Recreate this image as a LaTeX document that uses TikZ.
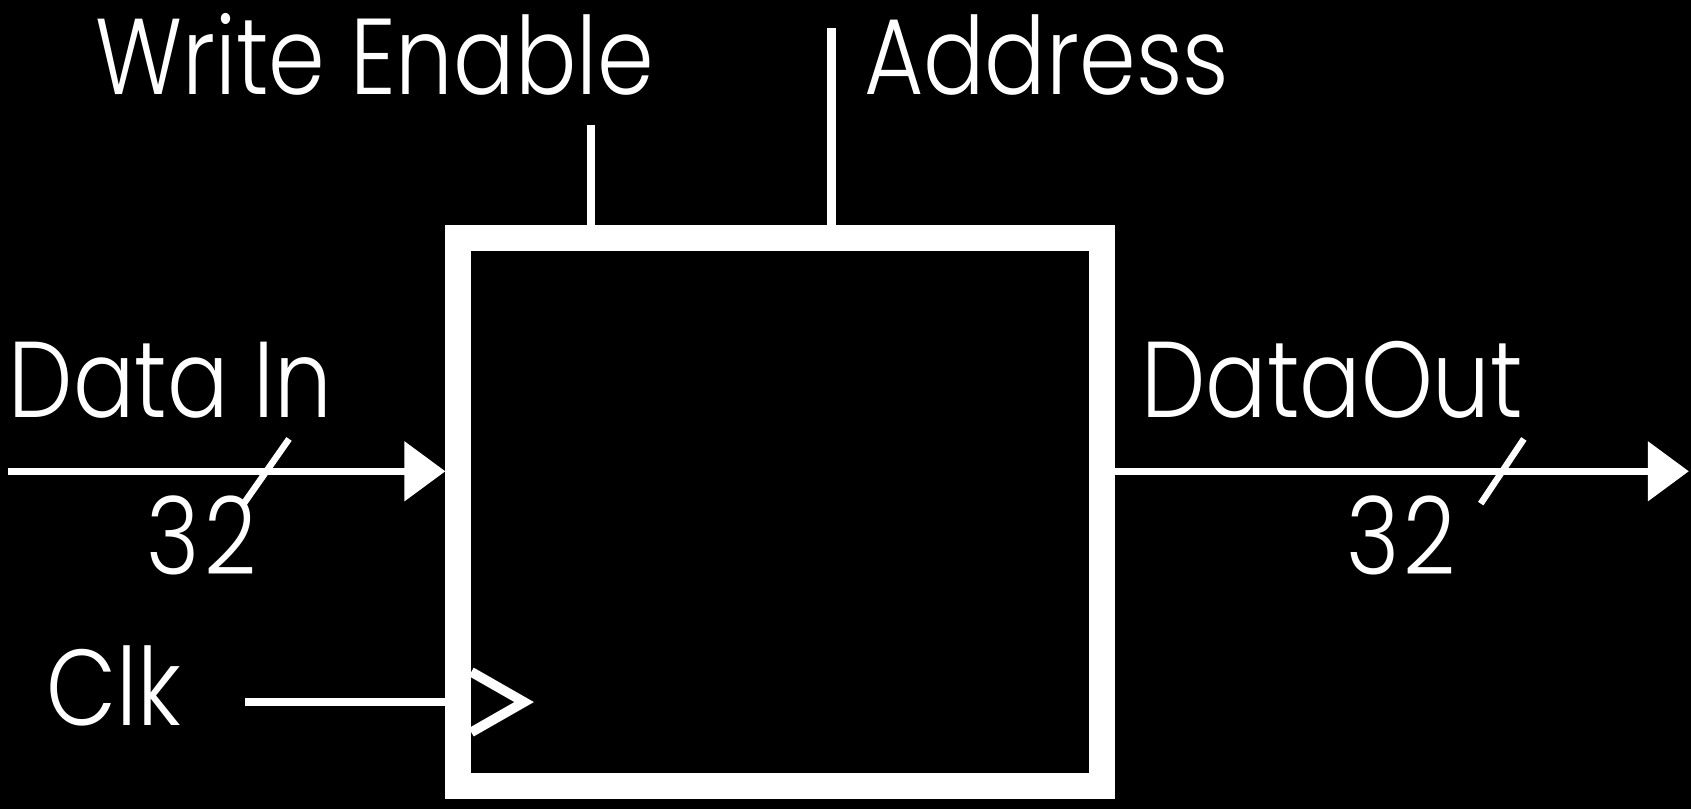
\documentclass[tikz,border=0pt]{standalone}
\usepackage{fontspec}
\setmainfont{Poppins}[UprightFont = * Light, FakeStretch = 0.845]
\usetikzlibrary{arrows.meta}
\tikzset{
  wire/.style = {white, line width = 7pt},
  bus/.style = {wire, -{Triangle[length=38pt,width=54pt]}},
  tick/.style = {white, line width = 6pt},
  lbl/.style = {white, inner sep = 0pt, anchor = base west, font = \fontsize{100}{115}\selectfont},
}
\begin{document}
\begin{tikzpicture}[x=1pt, y=-1pt]
  \fill [black] (0,0) rectangle (1568,750);
  \useasboundingbox (0,0) rectangle (1568,750);
  % memory block
  \node (mem) [draw = white, line width = 24pt, minimum width = 596.5pt, minimum height = 508pt] at (723.25,474.5) {};
  % inputs on top
  \coordinate (we) at (548,116);
  \coordinate (addr) at (771,26);
  \draw [wire, line width = 8pt] (we) -- (we |- mem.north);
  \draw [wire, line width = 8pt] (addr) -- (addr |- mem.north);
  \node (welbl) [lbl] at (88,88) {Write Enable};
  \node (addrlbl) [lbl] at (801,88) {Address};
  % data in
  \coordinate (din) at (7,437);
  \draw [bus] (din) -- (din -| mem.west);
  \draw [tick] (268,407) -- (226,467);
  \node (dinlbl) [lbl] at (8,387) {Data In};
  \node (dinw) [lbl] at (136,533) {3\hspace{4pt}2};
  % data out
  \coordinate (dout) at (1566,437);
  \draw [bus] (dout -| mem.east) -- (dout);
  \draw [tick] (1413,407) -- (1373,467);
  \node (doutlbl) [lbl] at (1058,387) {DataOut};
  \node (doutw) [lbl] at (1248,533) {3\hspace{4pt}2};
  % clock
  \coordinate (clk) at (227,651);
  \draw [wire] (clk) -- (clk -| mem.west);
  \draw [white, line width = 9pt] (437,623) -- (486,651) -- (437,679);
  \node (clklbl) [lbl] at (43,673) {Clk};
\end{tikzpicture}
\end{document}
